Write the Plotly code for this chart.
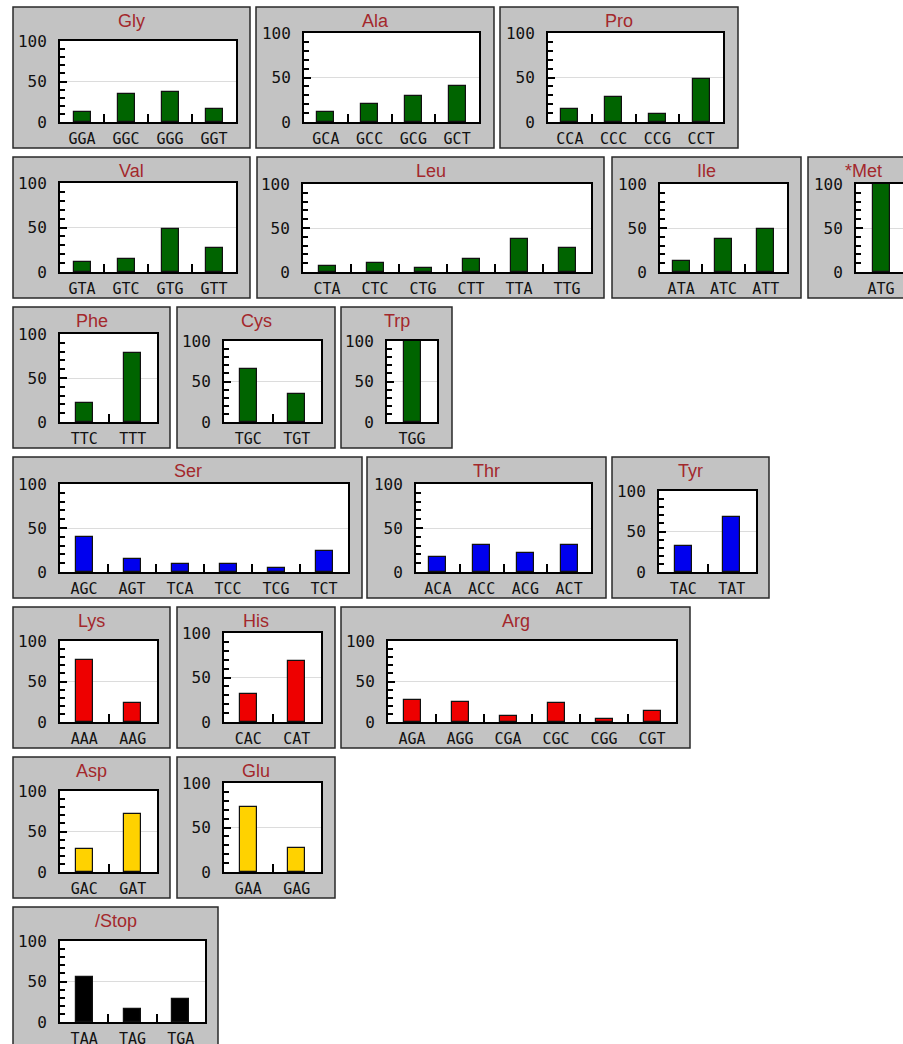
import plotly.graph_objects as go

# ---------------- data (percent codon usage per amino acid) ----------------
gly_codons = ["GGA", "GGC", "GGG", "GGT"]
gly_usage = [12, 35, 37, 16]
ala_codons = ["GCA", "GCC", "GCG", "GCT"]
ala_usage = [11, 20, 29, 40]
pro_codons = ["CCA", "CCC", "CCG", "CCT"]
pro_usage = [15, 28, 9, 48]
val_codons = ["GTA", "GTC", "GTG", "GTT"]
val_usage = [11, 15, 48, 27]
leu_codons = ["CTA", "CTC", "CTG", "CTT", "TTA", "TTG"]
leu_usage = [7, 10, 4, 15, 38, 27]
ile_codons = ["ATA", "ATC", "ATT"]
ile_usage = [13, 38, 49]
met_codons = ["ATG"]
met_usage = [100]
phe_codons = ["TTC", "TTT"]
phe_usage = [22, 78]
cys_codons = ["TGC", "TGT"]
cys_usage = [66, 34]
trp_codons = ["TGG"]
trp_usage = [100]
ser_codons = ["AGC", "AGT", "TCA", "TCC", "TCG", "TCT"]
ser_usage = [40, 15, 9, 9, 5, 24]
thr_codons = ["ACA", "ACC", "ACG", "ACT"]
thr_usage = [17, 31, 22, 31]
tyr_codons = ["TAC", "TAT"]
tyr_usage = [32, 68]
lys_codons = ["AAA", "AAG"]
lys_usage = [76, 24]
his_codons = ["CAC", "CAT"]
his_usage = [31, 69]
arg_codons = ["AGA", "AGG", "CGA", "CGC", "CGG", "CGT"]
arg_usage = [27, 25, 8, 23, 4, 13]
asp_codons = ["GAC", "GAT"]
asp_usage = [28, 72]
glu_codons = ["GAA", "GAG"]
glu_usage = [73, 27]
stop_codons = ["TAA", "TAG", "TGA"]
stop_usage = [55, 16, 29]

titles = ["Gly", "Ala", "Pro", "Val", "Leu", "Ile", "*Met", "Phe", "Cys", "Trp",
          "Ser", "Thr", "Tyr", "Lys", "His", "Arg", "Asp", "Glu", "/Stop"]
codon_lists = [gly_codons, ala_codons, pro_codons, val_codons, leu_codons, ile_codons,
               met_codons, phe_codons, cys_codons, trp_codons, ser_codons, thr_codons,
               tyr_codons, lys_codons, his_codons, arg_codons, asp_codons, glu_codons,
               stop_codons]
usage_lists = [gly_usage, ala_usage, pro_usage, val_usage, leu_usage, ile_usage,
               met_usage, phe_usage, cys_usage, trp_usage, ser_usage, thr_usage,
               tyr_usage, lys_usage, his_usage, arg_usage, asp_usage, glu_usage,
               stop_usage]
groups = ["np", "np", "np", "np", "np", "np", "np", "np", "np", "np",
          "polar", "polar", "polar", "basic", "basic", "basic", "acidic", "acidic", "stop"]

# ---------------- styling / layout ----------------
W, H = 903, 1044
GROUP_COLORS = {"np": "#006400", "polar": "#0000EE", "basic": "#EE0000",
                "acidic": "#FFD200", "stop": "#000000"}

# box_x0, box_x1, box_top, plot_x0, plot_x1, plot_top_offset
PANELS = [
    (13, 250, 7, 60, 236, 34), (256, 494, 7, 304, 479, 26), (500, 738, 7, 548, 723, 26),
    (13, 250, 157, 60, 236, 26), (257, 604, 157, 303, 591, 27), (612, 801, 157, 660, 787, 27),
    (808, 919, 157, 856, 906, 27),
    (13, 170, 307, 60, 157, 27), (177, 335, 307, 224, 321, 34), (341, 452, 307, 387, 437, 34),
    (13, 362, 457, 60, 348, 27), (367, 606, 457, 416, 591, 27), (612, 769, 457, 659, 756, 34),
    (13, 170, 607, 60, 157, 34), (177, 335, 607, 224, 321, 26), (341, 690, 607, 388, 676, 34),
    (13, 170, 757, 60, 157, 34), (177, 335, 757, 224, 321, 26),
    (13, 218, 907, 60, 205, 34),
]
BOX_H = 141
PLOT_BOTTOM = 115
BAR_PX = 17

def px_x(v):
    return v / W

def px_y(v):
    return 1 - v / H

fig = go.Figure()
shapes, annotations, layout_axes = [], [], {}

for i, (title, codons, usage, grp, pnl) in enumerate(
        zip(titles, codon_lists, usage_lists, groups, PANELS)):
    bx0, bx1, top, plx0, plx1, toff = pnl
    n = len(codons)
    suffix = "" if i == 0 else str(i + 1)
    xa, ya = "x" + suffix, "y" + suffix
    cat_px = (plx1 - plx0) / n
    ply0, ply1 = top + toff, top + PLOT_BOTTOM
    box_bottom = top + BOX_H if top + BOX_H < H - 4 else H + 40

    # panel box
    shapes.append(dict(type="rect", xref="paper", yref="paper", layer="below",
                       x0=px_x(bx0), x1=px_x(bx1), y0=px_y(box_bottom), y1=px_y(top),
                       fillcolor="#C3C3C3", line=dict(color="#2a2a2a", width=1.5)))
    # white plot area
    shapes.append(dict(type="rect", xref="paper", yref="paper", layer="below",
                       x0=px_x(plx0), x1=px_x(plx1), y0=px_y(ply1), y1=px_y(ply0),
                       fillcolor="white", line=dict(width=0)))

    clipped = plx1 > W
    dom_x1 = min(plx1, W)
    xrange_hi = -0.5 + (dom_x1 - plx0) / cat_px

    fig.add_trace(go.Bar(x=codons, y=usage, xaxis=xa, yaxis=ya,
                         width=BAR_PX / cat_px,
                         marker=dict(color=GROUP_COLORS[grp],
                                     line=dict(color="#111", width=1.2)),
                         showlegend=False, hoverinfo="x+y"))

    layout_axes["xaxis" + suffix] = dict(
        domain=[px_x(plx0), px_x(dom_x1)], anchor=ya, type="category",
        range=[-0.5, xrange_hi], tickson="boundaries", ticks="inside",
        ticklen=8, tickwidth=2, tickcolor="black", showgrid=False,
        showline=True, linecolor="black", linewidth=2, mirror=True,
        automargin=False,
        tickfont=dict(family="DejaVu Sans Mono", size=15, color="#111"),
        ticklabelstandoff=2, fixedrange=True)
    layout_axes["yaxis" + suffix] = dict(
        domain=[px_y(ply1), px_y(ply0)], anchor=xa, range=[0, 100],
        tickvals=[0, 50, 100], ticks="inside", ticklen=7, tickwidth=1.5,
        tickcolor="black", showgrid=True, gridcolor="#dcdcdc", gridwidth=1,
        zeroline=False, showline=True, linecolor="black", linewidth=2,
        mirror=not clipped, automargin=False,
        minor=dict(dtick=10, ticks="inside", ticklen=5, tickwidth=1.5,
                   tickcolor="black", showgrid=False),
        tickfont=dict(family="DejaVu Sans Mono", size=16, color="#111"),
        ticklabelstandoff=8, fixedrange=True)

    annotations.append(dict(text=title, xref="paper", yref="paper",
                            x=px_x((bx0 + bx1) / 2), y=px_y(top + 14),
                            xanchor="center", yanchor="middle", showarrow=False,
                            font=dict(family="Liberation Sans, Arial", size=18,
                                      color="#A3282C")))

fig.update_layout(width=W, height=H, margin=dict(l=0, r=0, t=0, b=0, pad=0),
                  autosize=False, template="none",
                  paper_bgcolor="white", plot_bgcolor="rgba(0,0,0,0)",
                  shapes=shapes, annotations=annotations, bargap=0,
                  **layout_axes)

fig.write_html("out.html")
